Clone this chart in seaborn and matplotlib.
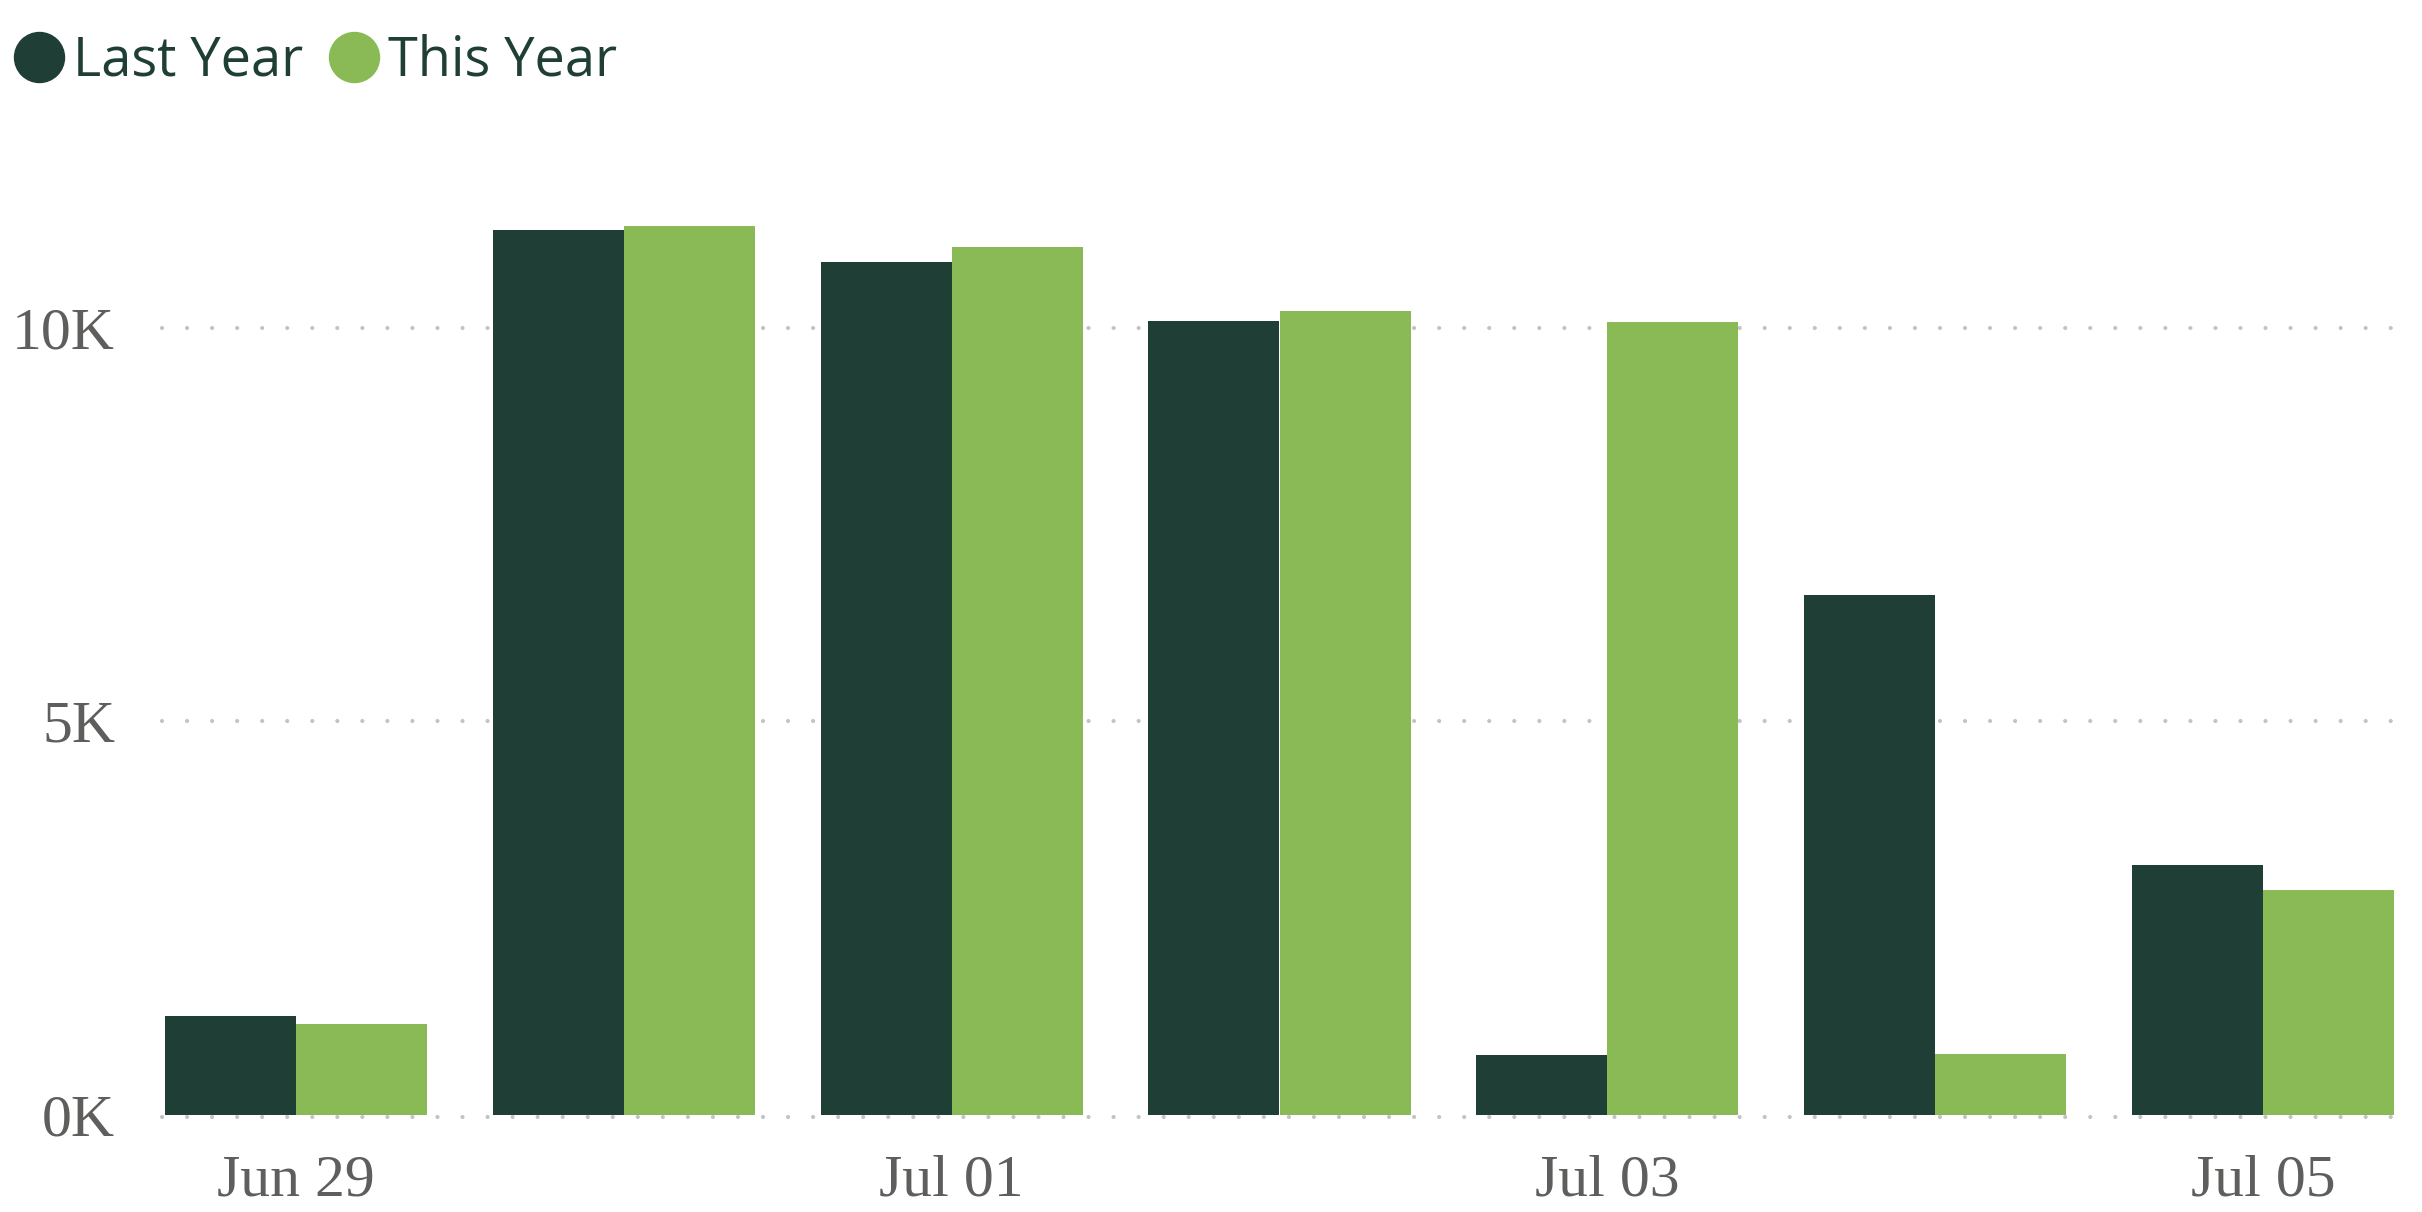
import matplotlib
matplotlib.use("Agg")
import matplotlib.pyplot as plt
from matplotlib.lines import Line2D
import matplotlib.transforms as mtransforms
import seaborn as sns
import pandas as pd

dates = ["Jun 29", "Jun 30", "Jul 01", "Jul 02", "Jul 03", "Jul 04", "Jul 05"]
last_year = [1250, 11240, 10840, 10090, 760, 6610, 3170]
this_year = [1150, 11300, 11030, 10220, 10080, 770, 2860]
series_names = ["Last Year", "This Year"]
colors = {"Last Year": "#1F3E35", "This Year": "#8ABA55"}
shown_ticks = ["Jun 29", "Jul 01", "Jul 03", "Jul 05"]
y_ticks = [0, 5000, 10000]
y_tick_labels = ["0K", "5K", "10K"]

df = pd.DataFrame({
    "date": dates * 2,
    "series": [series_names[0]] * len(dates) + [series_names[1]] * len(dates),
    "value": last_year + this_year,
})

sns.set_theme(style="white")
plt.rcParams["font.family"] = ["Liberation Serif", "DejaVu Serif"]

W, H = 2422, 1212
fig = plt.figure(figsize=(W / 100, H / 100), dpi=100)
left_px, right_px = 165, 2394
bottom_px = 1212 - 1114.5
ymax = 12000
px_per_unit = 786.5 / 10000
height_px = ymax * px_per_unit
ax = fig.add_axes([left_px / W, bottom_px / H, (right_px - left_px) / W, height_px / H])

sns.barplot(data=df, x="date", y="value", hue="series", order=dates,
            hue_order=series_names, palette=colors, width=0.8, gap=0,
            saturation=1, edgecolor="none", linewidth=0, ax=ax, legend=False,
            zorder=3)

ax.set_xlim(-0.4, 6.4)
ax.set_ylim(0, ymax)
for s in ax.spines.values():
    s.set_visible(False)

ax.set_yticks(y_ticks)
ax.set_yticklabels(y_tick_labels)
ax.set_xticks([dates.index(d) for d in shown_ticks])
ax.set_xticklabels(shown_ticks)
ax.tick_params(axis="both", length=0, labelsize=43, labelcolor="#605E5C")
ax.tick_params(axis="y", pad=36)
ax.tick_params(axis="x", pad=29)
ax.set_xlabel("")
ax.set_ylabel("")

lw = 3.0
xmin_frac = (162 - left_px) / (right_px - left_px)
for yv in y_ticks:
    if yv == 0:
        tr = mtransforms.offset_copy(ax.get_yaxis_transform(), fig=fig, y=-2.5, units="dots")
        ln = ax.axhline(yv, color="#C3C3C3", linewidth=lw, linestyle=(0, (0.01, 18 / lw)),
                        dash_capstyle="round", zorder=4, xmin=xmin_frac, clip_on=False)
        ln.set_transform(tr)
    else:
        ax.axhline(yv, color="#C3C3C3", linewidth=lw, linestyle=(0, (0.01, 18 / lw)),
                   dash_capstyle="round", zorder=1, xmin=xmin_frac, clip_on=False)

handles = [Line2D([0], [0], marker="o", linestyle="none", markersize=36,
                  markerfacecolor=colors[n], markeredgecolor=colors[n]) for n in series_names]
leg = fig.legend(handles, series_names, loc="upper left",
                 bbox_to_anchor=(12 / W, 1 - 34 / H), ncol=2, frameon=False,
                 handletextpad=0.12, columnspacing=0.45, handlelength=1.0,
                 borderaxespad=0, borderpad=0,
                 prop={"family": ["Open Sans", "DejaVu Sans"], "size": 39})
for t in leg.get_texts():
    t.set_color("#1F3E35")

fig.savefig("out.png", dpi=100)
